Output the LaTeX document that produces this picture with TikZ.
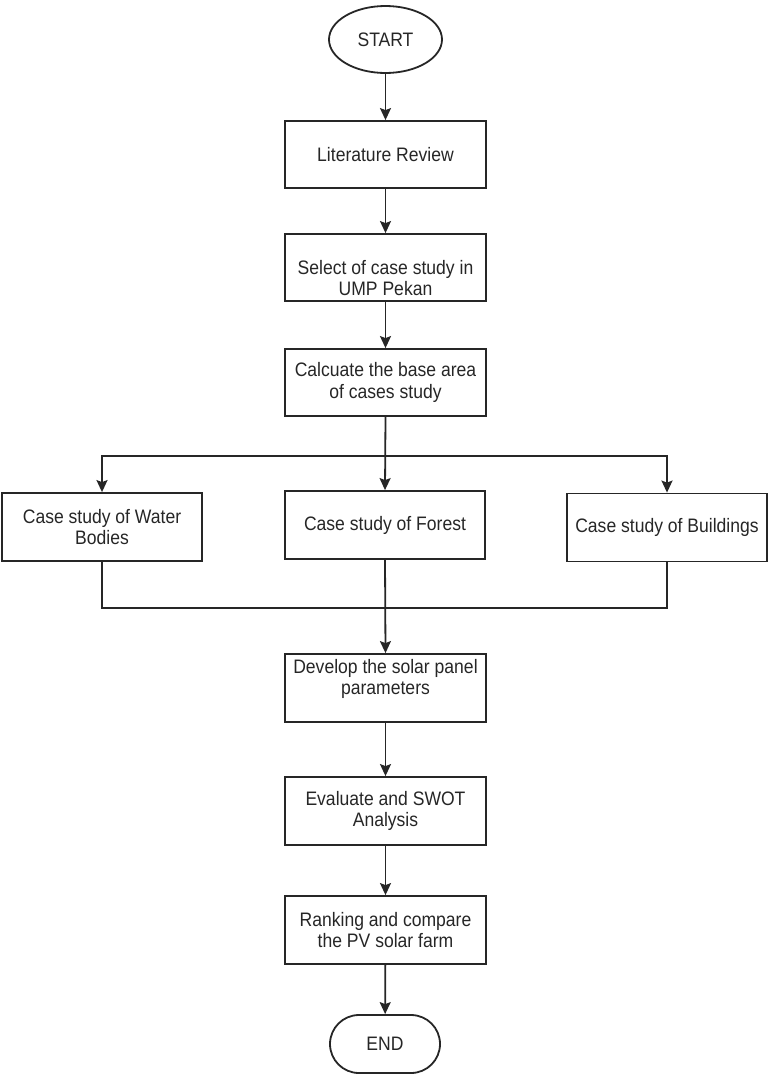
\documentclass[tikz,border=0pt]{standalone}
\usepackage{fontspec}
\setmainfont{Liberation Sans}[FakeStretch=0.9]
\usetikzlibrary{arrows.meta,shapes.geometric,positioning}
\definecolor{ink}{HTML}{262626}
\tikzset{
  txt/.style={text=ink, font=\fontsize{19.5}{21.5}\selectfont},
  flowbox/.style={txt, draw=ink, line width=1.8pt, rectangle, minimum width=201pt, minimum height=67pt, inner sep=0pt, align=center},
  casebox/.style={flowbox, minimum width=200pt, minimum height=68pt},
  startnode/.style={txt, draw=ink, line width=1.8pt, ellipse, minimum width=113pt, minimum height=67pt, inner sep=0pt},
  endnode/.style={txt, draw=ink, line width=1.8pt, rectangle, rounded corners=29pt, minimum width=110pt, minimum height=58pt, inner sep=0pt},
  conn/.style={draw=ink, line width=1.8pt},
  arr/.style={conn, -{Stealth[length=12pt,width=11pt,inset=2pt]}}
}
\begin{document}
\begin{tikzpicture}[x=1pt,y=-1pt]
\useasboundingbox (0,0) rectangle (769,1079);
\node[startnode] (start) at (385.5,39.5) {START};
\node[flowbox] (lit) at (385.5,154.5) {Literature Review};
\node[flowbox] (sel) at (385.5,267.5) {};
\node[txt, align=center] (selt) at (385.5,278) {Select of case study in\\UMP Pekan};
\node[flowbox] (calc) at (385.5,382.5) {Calcuate the base area\\of cases study};
\node[casebox] (water) at (102,527) {Case study of Water\\Bodies};
\node[casebox] (forest) at (385,525) {Case study of Forest};
\node[casebox] (build) at (667,527.5) {Case study of Buildings};
\node[flowbox, minimum height=68pt] (dev) at (385.5,688) {};
\node[txt, align=center] (devt) at (385.5,679) {Develop the solar panel\\parameters};
\node[flowbox, minimum height=68pt] (eval) at (385.5,811) {Evaluate and SWOT\\Analysis};
\node[flowbox, minimum height=68pt] (rank) at (385.5,930) {Ranking and compare\\the PV solar farm};
\node[endnode] (end) at (385,1044) {END};
\coordinate (br) at (385,456);
\coordinate (mg) at (385,608);
\draw[arr] (start) -- (lit);
\draw[arr] (lit) -- (sel);
\draw[arr] (sel) -- (calc);
\draw[arr] (calc.south) -- (forest.north);
\draw[arr] (br) -| (water.north);
\draw[arr] (br) -| (build.north);
\draw[conn] (water.south) |- (mg) -| (build.south);
\draw[arr] (forest.south) -- (dev.north);
\draw[arr] (dev) -- (eval);
\draw[arr] (eval) -- (rank);
\draw[arr] (rank) -- (end);
\end{tikzpicture}
\end{document}
